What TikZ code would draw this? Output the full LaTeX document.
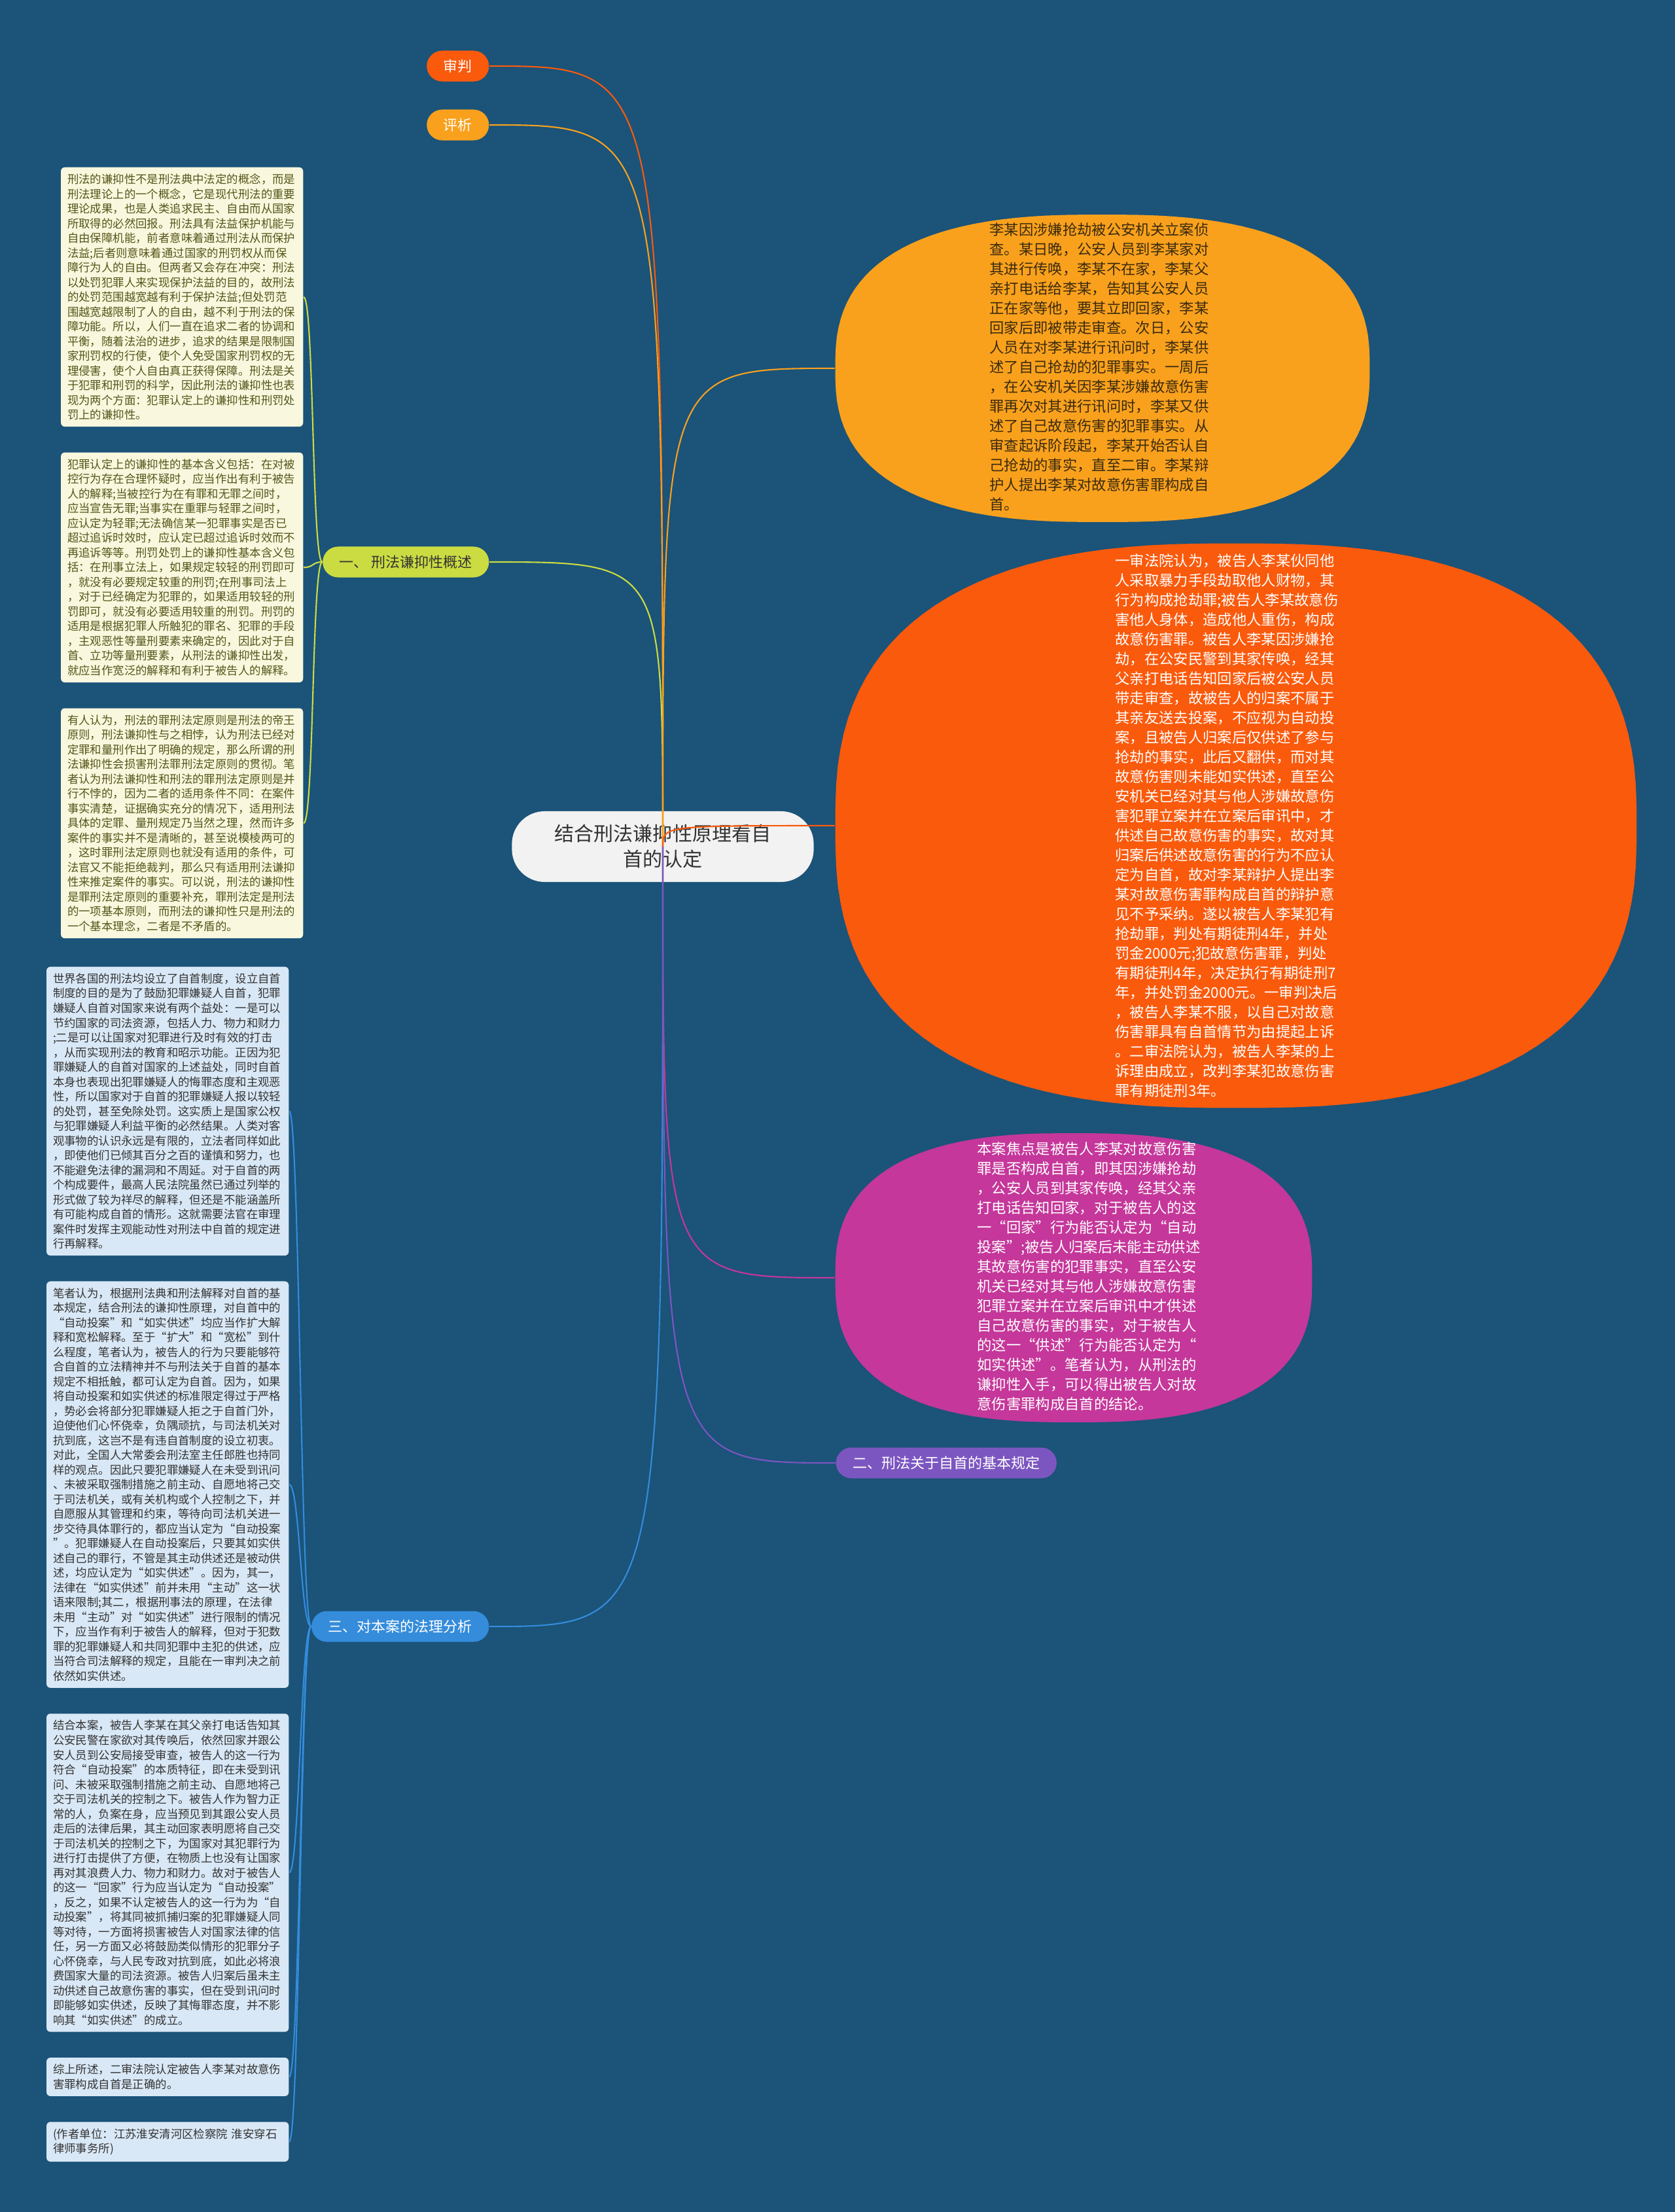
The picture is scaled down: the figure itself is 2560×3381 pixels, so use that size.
\documentclass[tikz,border=0pt]{standalone}
\usepackage{fontspec}
\setmainfont{Noto Sans CJK SC}
\usetikzlibrary{positioning, shapes.geometric}

\definecolor{bgblue}{HTML}{1B5379}
\definecolor{redorange}{HTML}{FA5A0C}
\definecolor{amber}{HTML}{F9A11D}
\definecolor{lime}{HTML}{CBDC42}
\definecolor{rose}{HTML}{C5379A}
\definecolor{violetpill}{HTML}{7C56C0}
\definecolor{skyblue}{HTML}{348CDB}
\definecolor{cream}{HTML}{F9F8DE}
\definecolor{olivetext}{HTML}{55551A}
\definecolor{paleblue}{HTML}{D9E8F6}
\definecolor{inkgrey}{HTML}{333333}
\definecolor{browntext}{HTML}{3A2A0E}
\definecolor{topicfill}{HTML}{F2F2F2}

\begin{document}
\begin{tikzpicture}[
    x=0.01cm, y=-0.01cm,
    node distance=0.38cm,
    pill/.style={rectangle, rounded corners=0.235cm, minimum height=0.47cm, inner xsep=0.255cm, inner ysep=0pt, font=\fontsize{6.26pt}{7.5pt}\selectfont},
    notebox/.style={rectangle, rounded corners=0.06cm, inner sep=0.1cm, text width=3.5cm, align=left, font=\fontsize{4.95pt}{6.4pt}\selectfont},
    bubble/.style={ellipse, inner sep=0pt},
    bubbletext/.style={inner sep=0pt, align=left, font=\fontsize{6.35pt}{8.54pt}\selectfont},
    branch/.style={line width=0.6pt}
  ]
    \fill[bgblue] (0,0) rectangle (2560,3381);
    \useasboundingbox (0,0) rectangle (2560,3381);

    % central topic
    \node[rectangle, rounded corners=0.5cm, fill=topicfill, text=inkgrey, minimum width=4.61cm, minimum height=1.08cm, align=center, font=\fontsize{8.54pt}{11.1pt}\selectfont] (topic) at (1013,1294) {结合刑法谦抑性原理看自\\首的认定};

    % left-hand labels
    \node[pill, fill=redorange, text=white, anchor=east] (trial) at (748,101) {审判};
    \node[pill, fill=amber, text=white, anchor=east] (review) at (748,191) {评析};
    \node[pill, fill=lime, text=inkgrey, anchor=east] (overview) at (748,859) {一、\ 刑法谦抑性概述};
    \node[pill, fill=skyblue, text=white, anchor=east] (analysis) at (748,2486) {三、对本案的法理分析};
    \node[pill, fill=violetpill, text=white, anchor=west] (provisions) at (1277,2236) {二、刑法关于自首的基本规定};

    % right-hand bubbles (rounded ellipses)
    \fill[amber] plot[domain=1.5:361.5, samples=121, variable=\t] ({1685+408.5*sign(cos(\t))*abs(cos(\t))^(0.77)}, {563+235*sign(sin(\t))*abs(sin(\t))^(0.77)}) -- cycle;
    \fill[redorange] plot[domain=1.5:361.5, samples=121, variable=\t] ({1889+612.5*sign(cos(\t))*abs(cos(\t))^(0.77)}, {1262+431.5*sign(sin(\t))*abs(sin(\t))^(0.77)}) -- cycle;
    \fill[rose] plot[domain=1.5:361.5, samples=121, variable=\t] ({1641+364.5*sign(cos(\t))*abs(cos(\t))^(0.77)}, {1953+221*sign(sin(\t))*abs(sin(\t))^(0.77)}) -- cycle;

    \node[bubble, minimum width=8.17cm, minimum height=4.70cm] (facts) at (1685,563) {};
    \node[bubbletext, text=browntext] (factsText) at (1680,561) {李某因涉嫌抢劫被公安机关立案侦\\查。某日晚，公安人员到李某家对\\其进行传唤，李某不在家，李某父\\亲打电话给李某，告知其公安人员\\正在家等他，要其立即回家，李某\\回家后即被带走审查。次日，公安\\人员在对李某进行讯问时，李某供\\述了自己抢劫的犯罪事实。一周后\\，在公安机关因李某涉嫌故意伤害\\罪再次对其进行讯问时，李某又供\\述了自己故意伤害的犯罪事实。从\\审查起诉阶段起，李某开始否认自\\己抢劫的事实，直至二审。李某辩\\护人提出李某对故意伤害罪构成自\\首。};

    \node[bubble, minimum width=12.25cm, minimum height=8.63cm] (rulings) at (1889,1262) {};
    \node[bubbletext, text=white] (rulingsText) at (1875,1262) {一审法院认为，被告人李某伙同他\\人采取暴力手段劫取他人财物，其\\行为构成抢劫罪;被告人李某故意伤\\害他人身体，造成他人重伤，构成\\故意伤害罪。被告人李某因涉嫌抢\\劫，在公安民警到其家传唤，经其\\父亲打电话告知回家后被公安人员\\带走审查，故被告人的归案不属于\\其亲友送去投案，不应视为自动投\\案，且被告人归案后仅供述了参与\\抢劫的事实，此后又翻供，而对其\\故意伤害则未能如实供述，直至公\\安机关已经对其与他人涉嫌故意伤\\害犯罪立案并在立案后审讯中，才\\供述自己故意伤害的事实，故对其\\归案后供述故意伤害的行为不应认\\定为自首，故对李某辩护人提出李\\某对故意伤害罪构成自首的辩护意\\见不予采纳。遂以被告人李某犯有\\抢劫罪，判处有期徒刑4年，并处\\罚金2000元;犯故意伤害罪，判处\\有期徒刑4年，决定执行有期徒刑7\\年，并处罚金2000元。一审判决后\\，被告人李某不服，以自己对故意\\伤害罪具有自首情节为由提起上诉\\。二审法院认为，被告人李某的上\\诉理由成立，改判李某犯故意伤害\\罪有期徒刑3年。};

    \node[bubble, minimum width=7.29cm, minimum height=4.42cm] (focus) at (1641,1953) {};
    \node[bubbletext, text=white] (focusText) at (1664,1951) {本案焦点是被告人李某对故意伤害\\罪是否构成自首，即其因涉嫌抢劫\\，公安人员到其家传唤，经其父亲\\打电话告知回家，对于被告人的这\\一“回家”行为能否认定为“自动\\投案”;被告人归案后未能主动供述\\其故意伤害的犯罪事实，直至公安\\机关已经对其与他人涉嫌故意伤害\\犯罪立案并在立案后审讯中才供述\\自己故意伤害的事实，对于被告人\\的这一“供述”行为能否认定为“\\如实供述”。笔者认为，从刑法的\\谦抑性入手，可以得出被告人对故\\意伤害罪构成自首的结论。};

    % notes of part one
    \node[notebox, fill=cream, text=olivetext, anchor=north east] (concept) at (464,255) {刑法的谦抑性不是刑法典中法定的概念，而是\\刑法理论上的一个概念，它是现代刑法的重要\\理论成果，也是人类追求民主、自由而从国家\\所取得的必然回报。刑法具有法益保护机能与\\自由保障机能，前者意味着通过刑法从而保护\\法益;后者则意味着通过国家的刑罚权从而保\\障行为人的自由。但两者又会存在冲突：刑法\\以处罚犯罪人来实现保护法益的目的，故刑法\\的处罚范围越宽越有利于保护法益;但处罚范\\围越宽越限制了人的自由，越不利于刑法的保\\障功能。所以，人们一直在追求二者的协调和\\平衡，随着法治的进步，追求的结果是限制国\\家刑罚权的行使，使个人免受国家刑罚权的无\\理侵害，使个人自由真正获得保障。刑法是关\\于犯罪和刑罚的科学，因此刑法的谦抑性也表\\现为两个方面：犯罪认定上的谦抑性和刑罚处\\罚上的谦抑性。};
    \node[notebox, fill=cream, text=olivetext, below=of concept] (restraint) {犯罪认定上的谦抑性的基本含义包括：在对被\\控行为存在合理怀疑时，应当作出有利于被告\\人的解释;当被控行为在有罪和无罪之间时，\\应当宣告无罪;当事实在重罪与轻罪之间时，\\应认定为轻罪;无法确信某一犯罪事实是否已\\超过追诉时效时，应认定已超过追诉时效而不\\再追诉等等。刑罚处罚上的谦抑性基本含义包\\括：在刑事立法上，如果规定较轻的刑罚即可\\，就没有必要规定较重的刑罚;在刑事司法上\\，对于已经确定为犯罪的，如果适用较轻的刑\\罚即可，就没有必要适用较重的刑罚。刑罚的\\适用是根据犯罪人所触犯的罪名、犯罪的手段\\，主观恶性等量刑要素来确定的，因此对于自\\首、立功等量刑要素，从刑法的谦抑性出发，\\就应当作宽泛的解释和有利于被告人的解释。};
    \node[notebox, fill=cream, text=olivetext, below=of restraint] (legality) {有人认为，刑法的罪刑法定原则是刑法的帝王\\原则，刑法谦抑性与之相悖，认为刑法已经对\\定罪和量刑作出了明确的规定，那么所谓的刑\\法谦抑性会损害刑法罪刑法定原则的贯彻。笔\\者认为刑法谦抑性和刑法的罪刑法定原则是并\\行不悖的，因为二者的适用条件不同：在案件\\事实清楚，证据确实充分的情况下，适用刑法\\具体的定罪、量刑规定乃当然之理，然而许多\\案件的事实并不是清晰的，甚至说模棱两可的\\，这时罪刑法定原则也就没有适用的条件，可\\法官又不能拒绝裁判，那么只有适用刑法谦抑\\性来推定案件的事实。可以说，刑法的谦抑性\\是罪刑法定原则的重要补充，罪刑法定是刑法\\的一项基本原则，而刑法的谦抑性只是刑法的\\一个基本理念，二者是不矛盾的。};

    % notes of part three
    \node[notebox, fill=paleblue, text=inkgrey, anchor=north east] (purpose) at (442,1477) {世界各国的刑法均设立了自首制度，设立自首\\制度的目的是为了鼓励犯罪嫌疑人自首，犯罪\\嫌疑人自首对国家来说有两个益处：一是可以\\节约国家的司法资源，包括人力、物力和财力\\;二是可以让国家对犯罪进行及时有效的打击\\，从而实现刑法的教育和昭示功能。正因为犯\\罪嫌疑人的自首对国家的上述益处，同时自首\\本身也表现出犯罪嫌疑人的悔罪态度和主观恶\\性，所以国家对于自首的犯罪嫌疑人报以较轻\\的处罚，甚至免除处罚。这实质上是国家公权\\与犯罪嫌疑人利益平衡的必然结果。人类对客\\观事物的认识永远是有限的，立法者同样如此\\，即使他们已倾其百分之百的谨慎和努力，也\\不能避免法律的漏洞和不周延。对于自首的两\\个构成要件，最高人民法院虽然已通过列举的\\形式做了较为祥尽的解释，但还是不能涵盖所\\有可能构成自首的情形。这就需要法官在审理\\案件时发挥主观能动性对刑法中自首的规定进\\行再解释。};
    \node[notebox, fill=paleblue, text=inkgrey, below=of purpose] (opinion) {笔者认为，根据刑法典和刑法解释对自首的基\\本规定，结合刑法的谦抑性原理，对自首中的\\“自动投案”和“如实供述”均应当作扩大解\\释和宽松解释。至于“扩大”和“宽松”到什\\么程度，笔者认为，被告人的行为只要能够符\\合自首的立法精神并不与刑法关于自首的基本\\规定不相抵触，都可认定为自首。因为，如果\\将自动投案和如实供述的标准限定得过于严格\\，势必会将部分犯罪嫌疑人拒之于自首门外，\\迫使他们心怀侥幸，负隅顽抗，与司法机关对\\抗到底，这岂不是有违自首制度的设立初衷。\\对此，全国人大常委会刑法室主任郎胜也持同\\样的观点。因此只要犯罪嫌疑人在未受到讯问\\、未被采取强制措施之前主动、自愿地将己交\\于司法机关，或有关机构或个人控制之下，并\\自愿服从其管理和约束，等待向司法机关进一\\步交待具体罪行的，都应当认定为“自动投案\\”。犯罪嫌疑人在自动投案后，只要其如实供\\述自己的罪行，不管是其主动供述还是被动供\\述，均应认定为“如实供述”。因为，其一，\\法律在“如实供述”前并未用“主动”这一状\\语来限制;其二，根据刑事法的原理，在法律\\未用“主动”对“如实供述”进行限制的情况\\下，应当作有利于被告人的解释，但对于犯数\\罪的犯罪嫌疑人和共同犯罪中主犯的供述，应\\当符合司法解释的规定，且能在一审判决之前\\依然如实供述。};
    \node[notebox, fill=paleblue, text=inkgrey, below=of opinion] (application) {结合本案，被告人李某在其父亲打电话告知其\\公安民警在家欲对其传唤后，依然回家并跟公\\安人员到公安局接受审查，被告人的这一行为\\符合“自动投案”的本质特征，即在未受到讯\\问、未被采取强制措施之前主动、自愿地将己\\交于司法机关的控制之下。被告人作为智力正\\常的人，负案在身，应当预见到其跟公安人员\\走后的法律后果，其主动回家表明愿将自己交\\于司法机关的控制之下，为国家对其犯罪行为\\进行打击提供了方便，在物质上也没有让国家\\再对其浪费人力、物力和财力。故对于被告人\\的这一“回家”行为应当认定为“自动投案”\\，反之，如果不认定被告人的这一行为为“自\\动投案”，将其同被抓捕归案的犯罪嫌疑人同\\等对待，一方面将损害被告人对国家法律的信\\任，另一方面又必将鼓励类似情形的犯罪分子\\心怀侥幸，与人民专政对抗到底，如此必将浪\\费国家大量的司法资源。被告人归案后虽未主\\动供述自己故意伤害的事实，但在受到讯问时\\即能够如实供述，反映了其悔罪态度，并不影\\响其“如实供述”的成立。};
    \node[notebox, fill=paleblue, text=inkgrey, below=of application] (conclusion) {综上所述，二审法院认定被告人李某对故意伤\\害罪构成自首是正确的。};
    \node[notebox, fill=paleblue, text=inkgrey, below=of conclusion] (affiliation) {(作者单位：江苏淮安清河区检察院 淮安穿石\\律师事务所)};

    % branches from the topic
    \draw[branch, redorange] (trial.east) .. controls (topic |- trial.east) .. (topic.center);
    \draw[branch, amber] (review.east) .. controls (topic |- review.east) .. (topic.center);
    \draw[branch, lime] (overview.east) .. controls (topic |- overview.east) .. (topic.center);
    \draw[branch, skyblue] (topic.center) .. controls (topic |- analysis.east) .. (analysis.east);
    \draw[branch, amber] (topic.center) .. controls (topic |- facts.west) .. (facts.west);
    \draw[branch, redorange] (topic.center) .. controls (topic |- rulings.west) .. (rulings.west);
    \draw[branch, rose] (topic.center) .. controls (topic |- focus.west) .. (focus.west);
    \draw[branch, violetpill] (topic.center) .. controls (topic |- provisions.west) .. (provisions.west);

    % sub branches
    \foreach \n in {concept, restraint, legality}
      \draw[branch, lime] (overview.west) .. controls +(-16,0) and +(16,0) .. (\n.east);
    \foreach \n in {purpose, opinion, application, conclusion, affiliation}
      \draw[branch, skyblue] (analysis.west) .. controls +(-16,0) and +(16,0) .. (\n.east);
\end{tikzpicture}
\end{document}
